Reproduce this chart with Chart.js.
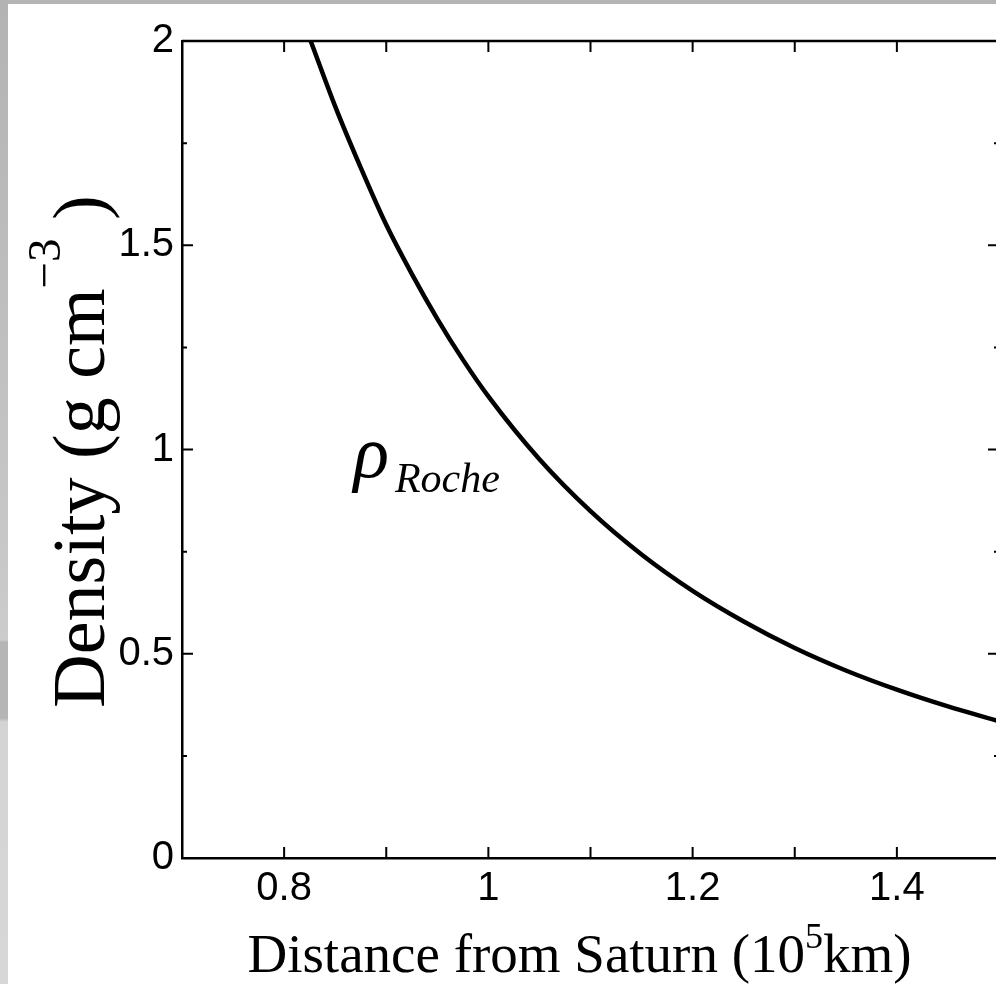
<!DOCTYPE html>
<html>
<head>
<meta charset="utf-8">
<script src="https://cdn.jsdelivr.net/npm/chart.js@4.4.1/dist/chart.umd.min.js"></script>
<style>
    html, body { margin: 0; padding: 0; background: #fff; overflow: hidden; }
    #wrap { position: relative; width: 996px; height: 984px; overflow: hidden; background: #fff; }
    #wrap canvas { position: absolute; left: 0; top: 0; }
    .band-top { position: absolute; left: 0; top: 0; width: 996px; height: 4px; background: #b4b4b4; }
    .band-left {
        position: absolute; left: 0; top: 0; width: 8px; height: 984px;
        background: linear-gradient(to bottom, #b3b3b3 0px, #c8c8c8 560px, #cccccc 640px,
            #b5b5b5 642px, #b5b5b5 718px, #d4d4d4 722px, #d7d7d7 984px);
    }
</style>
</head>
<body>
<div id="wrap">
    <canvas id="rocheChart" width="1000" height="984"></canvas>
    <div class="band-top"></div>
    <div class="band-left"></div>
</div>
<script>
(function () {
    'use strict';

    // curve (distance in 10^5 km, density in g cm^-3)
    const distance = [0.826, 0.85, 0.875, 0.9, 0.925, 0.95, 0.975, 1.0, 1.05, 1.1, 1.15, 1.2, 1.25, 1.3, 1.35, 1.4, 1.45, 1.5];
    const density = [2.00, 1.84, 1.69, 1.55, 1.43, 1.32, 1.22, 1.13, 0.976, 0.849, 0.743, 0.654, 0.579, 0.514, 0.459, 0.412, 0.371, 0.335];

    const xLabelTicks = [0.8, 1, 1.2, 1.4];
    const xMarkTicks = [0.8, 0.9, 1.0, 1.1, 1.2, 1.3, 1.4];
    const yLabelTicks = [0, 0.5, 1, 1.5, 2];
    const yMinorTicks = [0.25, 0.75, 1.25, 1.75];

    const xTitle = ['Distance from Saturn (10', '5', 'km)'];
    const yTitle = ['Density (g cm', '\u22123', ' )'];
    const curveLabel = ['\u03c1', 'Roche'];

    const sans = "'Liberation Sans', Arial, sans-serif";
    const serif = "'Liberation Serif', 'Times New Roman', serif";

    const frame = {
        id: 'frame',
        afterDraw(chart) {
            const { ctx, chartArea: a, scales: { x, y } } = chart;
            ctx.save();
            ctx.strokeStyle = '#000';
            ctx.lineWidth = 2.5;
            ctx.beginPath();
            ctx.moveTo(a.left, a.top);
            ctx.lineTo(a.right, a.top);
            ctx.lineTo(a.right, a.bottom);
            ctx.stroke();

            // inward tick marks on all four sides
            ctx.lineWidth = 2;
            ctx.beginPath();
            xMarkTicks.forEach((v) => {
                const px = x.getPixelForValue(v);
                ctx.moveTo(px, a.bottom); ctx.lineTo(px, a.bottom - 11);
                ctx.moveTo(px, a.top); ctx.lineTo(px, a.top + 11);
            });
            yLabelTicks.forEach((v) => {
                const py = y.getPixelForValue(v);
                ctx.moveTo(a.left, py); ctx.lineTo(a.left + 11, py);
                ctx.moveTo(a.right, py); ctx.lineTo(a.right - 11, py);
            });
            yMinorTicks.forEach((v) => {
                const py = y.getPixelForValue(v);
                ctx.moveTo(a.left, py); ctx.lineTo(a.left + 5, py);
                ctx.moveTo(a.right, py); ctx.lineTo(a.right - 5, py);
            });
            ctx.stroke();

            ctx.fillStyle = '#000';
            ctx.textBaseline = 'alphabetic';
            ctx.textAlign = 'left';

            // x title with superscript
            const xBig = `55px ${serif}`;
            const xSmall = `36px ${serif}`;
            ctx.font = xBig;
            const xw1 = ctx.measureText(xTitle[0]).width;
            const xw3 = ctx.measureText(xTitle[2]).width;
            ctx.font = xSmall;
            const xw2 = ctx.measureText(xTitle[1]).width;
            let tx = (a.left + a.right) / 2 - 11 - (xw1 + xw2 + xw3) / 2;
            const ty = a.bottom + 114;
            ctx.font = xBig;
            ctx.fillText(xTitle[0], tx, ty);
            tx += xw1;
            ctx.font = xSmall;
            ctx.fillText(xTitle[1], tx, ty - 24);
            tx += xw2;
            ctx.font = xBig;
            ctx.fillText(xTitle[2], tx, ty);

            // y title, rotated
            const yBig = `74px ${serif}`;
            const ySmall = `47px ${serif}`;
            ctx.save();
            ctx.translate(a.left - 78, (a.top + a.bottom) / 2 + 2);
            ctx.rotate(-Math.PI / 2);
            ctx.font = yBig;
            const yw1 = ctx.measureText(yTitle[0]).width;
            const yw3 = ctx.measureText(yTitle[2]).width;
            ctx.font = ySmall;
            const yw2 = ctx.measureText(yTitle[1]).width;
            let sx = -(yw1 + yw2 + yw3) / 2;
            ctx.font = yBig;
            ctx.fillText(yTitle[0], sx, 0);
            sx += yw1;
            ctx.font = ySmall;
            ctx.fillText(yTitle[1], sx, -44);
            sx += yw2;
            ctx.font = yBig;
            ctx.fillText(yTitle[2], sx, 0);
            ctx.restore();

            // rho_Roche label
            const lx = x.getPixelForValue(0.868);
            const ly = y.getPixelForValue(0.932);
            ctx.font = `italic 74px ${serif}`;
            ctx.fillText(curveLabel[0], lx, ly);
            ctx.font = `italic 42px ${serif}`;
            ctx.fillText(curveLabel[1], x.getPixelForValue(0.9085), ly + 15);

            ctx.restore();
        }
    };

    new Chart(document.getElementById('rocheChart'), {
        type: 'line',
        data: {
            datasets: [{
                data: distance.map((d, i) => ({ x: d, y: density[i] })),
                borderColor: '#000',
                borderWidth: 4.5,
                pointRadius: 0,
                fill: false,
                cubicInterpolationMode: 'monotone'
            }]
        },
        options: {
            responsive: false,
            devicePixelRatio: 1,
            animation: false,
            layout: { padding: { top: 41, right: 1, left: 0, bottom: 0 } },
            plugins: {
                legend: { display: false },
                tooltip: { enabled: false }
            },
            scales: {
                x: {
                    type: 'linear',
                    position: 'bottom',
                    min: 0.7,
                    max: 1.5,
                    grid: { display: false, drawTicks: false },
                    border: { display: true, color: '#000', width: 2.5 },
                    afterBuildTicks: (scale) => { scale.ticks = xLabelTicks.map((value) => ({ value })); },
                    afterFit: (scale) => { scale.height = 126; },
                    ticks: {
                        color: '#000',
                        padding: 7,
                        maxRotation: 0,
                        font: { family: sans, size: 40 },
                        callback: (value) => String(value)
                    }
                },
                y: {
                    type: 'linear',
                    min: 0,
                    max: 2,
                    grid: { display: false, drawTicks: false },
                    border: { display: true, color: '#000', width: 2.5 },
                    afterBuildTicks: (scale) => { scale.ticks = yLabelTicks.map((value) => ({ value })); },
                    afterFit: (scale) => { scale.width = 182; },
                    ticks: {
                        color: '#000',
                        padding: 8,
                        font: { family: sans, size: 40 },
                        callback: (value) => String(value)
                    }
                }
            }
        },
        plugins: [frame]
    });
})();
</script>
</body>
</html>
